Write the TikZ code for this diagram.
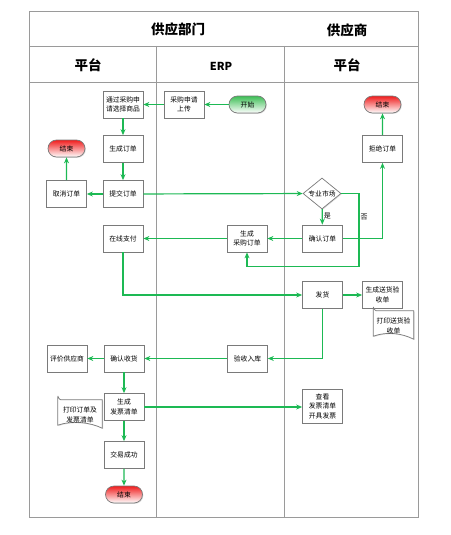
\documentclass[tikz,border=0pt]{standalone}
\usepackage{fontspec}
\setmainfont{Noto Sans CJK SC}
\usetikzlibrary{shapes.geometric,shapes.misc,arrows.meta,shadows}
\definecolor{flow}{HTML}{1DB954}
\definecolor{lane}{HTML}{9A9A9A}
\definecolor{bord}{HTML}{7A7A7A}
\definecolor{startg}{HTML}{3DBE55}
\definecolor{endr}{HTML}{F01E1E}
\begin{document}
\begin{tikzpicture}[x=1pt,y=-1pt,
  box/.style={draw=bord,fill=white,line width=0.7pt,minimum width=40pt,minimum height=27pt,inner sep=1pt,
    font=\fontsize{6.8}{9.5}\selectfont,align=center,
    drop shadow={shadow xshift=0.8pt,shadow yshift=-0.8pt,opacity=0.3}},
  pill/.style={draw=bord,line width=0.7pt,rounded rectangle,minimum width=39pt,minimum height=17pt,inner sep=1pt,
    font=\fontsize{6.8}{9}\selectfont,drop shadow={shadow xshift=0.8pt,shadow yshift=-0.8pt,opacity=0.3}},
  startpill/.style={pill,top color=startg,bottom color=white},
  endpill/.style={pill,top color=endr,bottom color=white},
  choice/.style={draw=bord,fill=white,line width=0.7pt,diamond,aspect=1.25,minimum width=38pt,minimum height=31pt,inner sep=0pt,
    font=\fontsize{6.8}{9}\selectfont,drop shadow={shadow xshift=0.8pt,shadow yshift=-0.8pt,opacity=0.3}},
  doctext/.style={minimum width=40pt,minimum height=26pt,inner sep=1pt,font=\fontsize{6.8}{9.5}\selectfont,align=center},
  docshape/.style={draw=bord,fill=white,line width=0.7pt,drop shadow={shadow xshift=0.8pt,shadow yshift=-0.8pt,opacity=0.3}},
  arr/.style={draw=flow,line width=1.2pt,-{Stealth[length=6pt,width=5pt]}},
  lanes/.style={draw=lane,line width=0.8pt},
  head/.style={font=\fontsize{13.5}{15}\selectfont\bfseries},
  lbl/.style={font=\fontsize{7}{8}\selectfont,inner sep=1pt}
]
\useasboundingbox (0,0) rectangle (450,535);
% swimlane frame
\draw[lanes] (29,11) rectangle (418,517);
\draw[lanes] (29,46) -- (418,46);
\draw[lanes] (29,82) -- (418,82);
\draw[lanes] (156,46) -- (156,517);
\draw[lanes] (284,46) -- (284,517);
\node[head] (h1) at (178,29) {供应部门};
\node[head] (h2) at (347,30) {供应商};
\node[head] (h3) at (88,65) {平台};
\node[head,font=\fontsize{11}{13}\selectfont\bfseries] (h4) at (221,66) {ERP};
\node[head] (h5) at (347,65) {平台};

% nodes
\node[startpill] (start) at (247.5,104.5) {开始};
\node[box] (upload) at (184,104.5) {采购申请\\上传};
\node[box] (select) at (123,104.5) {通过采购申\\请选择商品};
\node[endpill] (end2) at (382.5,104.5) {结束};
\node[box] (genorder) at (123,149) {生成订单};
\node[endpill] (end1) at (66.5,148.5) {结束};
\node[box] (reject) at (382.5,149) {拒绝订单};
\node[box] (cancel) at (66.5,194) {取消订单};
\node[box] (submit) at (123,194) {提交订单};
\node[choice] (market) at (322,193.5) {专业市场};
\node[box] (pay) at (123,238.5) {在线支付};
\node[box] (genpo) at (247,238.5) {生成\\采购订单};
\node[box] (confirm) at (322.5,238.5) {确认订单};
\node[box] (ship) at (322.5,295) {发货};
\node[box] (gendeliv) at (382.5,295) {生成送货验\\收单};
\node[doctext] (printdeliv) at (393.5,324) {};
\node[box] (stockin) at (247.5,358.5) {验收入库};
\node[box] (confirmrecv) at (124,358.5) {确认收货};
\node[box] (evaluate) at (67,358.5) {评价供应商};
\node[box] (geninv) at (124,407) {生成\\发票清单};
\node[box,minimum height=34pt] (view) at (322.5,406) {查看\\发票清单\\开具发票};
\node[doctext,minimum width=44pt] (printinv) at (80,413) {};
\node[box] (success) at (124,455) {交易成功};
\node[endpill] (end3) at (124,494.5) {结束};

% document shapes
\foreach \d/\t in {printdeliv/{打印送货验\\收单},printinv/{打印订单及\\发票清单}}{
  \path[docshape] ([xshift=3pt]\d.north west) -- (\d.north east) -- ([yshift=-2pt]\d.south east)
    .. controls +(-12,-6) and +(14,-5) .. ([yshift=1pt]\d.south west) -- ([yshift=3pt]\d.north west)
    .. controls +(0,-2) and +(-2,0) .. ([xshift=3pt]\d.north west) -- cycle;
  \node[doctext,minimum width=0pt,minimum height=0pt] at ([yshift=-2pt]\d.center) {\t};
}

% connectors
\coordinate (noc) at (359,266.5);
\draw[arr] (start) -- (upload);
\draw[arr] (upload) -- (select);
\draw[arr] (select) -- (genorder);
\draw[arr] (genorder) -- (submit);
\draw[arr] (submit) -- (cancel);
\draw[arr] (cancel) -- (end1);
\draw[arr] (submit) -- (market);
\draw[arr] (market) -- node[lbl,right,pos=0.45] (yes) {是} (confirm);
\draw[arr] (market.east) -| node[lbl,right,pos=0.66] (no) {否} (noc) -| (genpo.south);
\draw[arr] (confirm.east) -| (reject.south);
\draw[arr] (reject) -- (end2);
\draw[arr] (confirm) -- (genpo);
\draw[arr] (genpo) -- (pay);
\draw[arr] (pay.south) |- (ship.west);
\draw[arr] (ship) -- (gendeliv);
\draw[arr] (ship.south) |- (stockin.east);
\draw[arr] (stockin) -- (confirmrecv);
\draw[arr] (confirmrecv) -- (evaluate);
\draw[arr] (confirmrecv) -- (geninv);
\draw[arr] (geninv.east) -- (view.west |- geninv.east);
\draw[arr] (geninv) -- (success);
\draw[arr] (success) -- (end3);
\end{tikzpicture}
\end{document}
